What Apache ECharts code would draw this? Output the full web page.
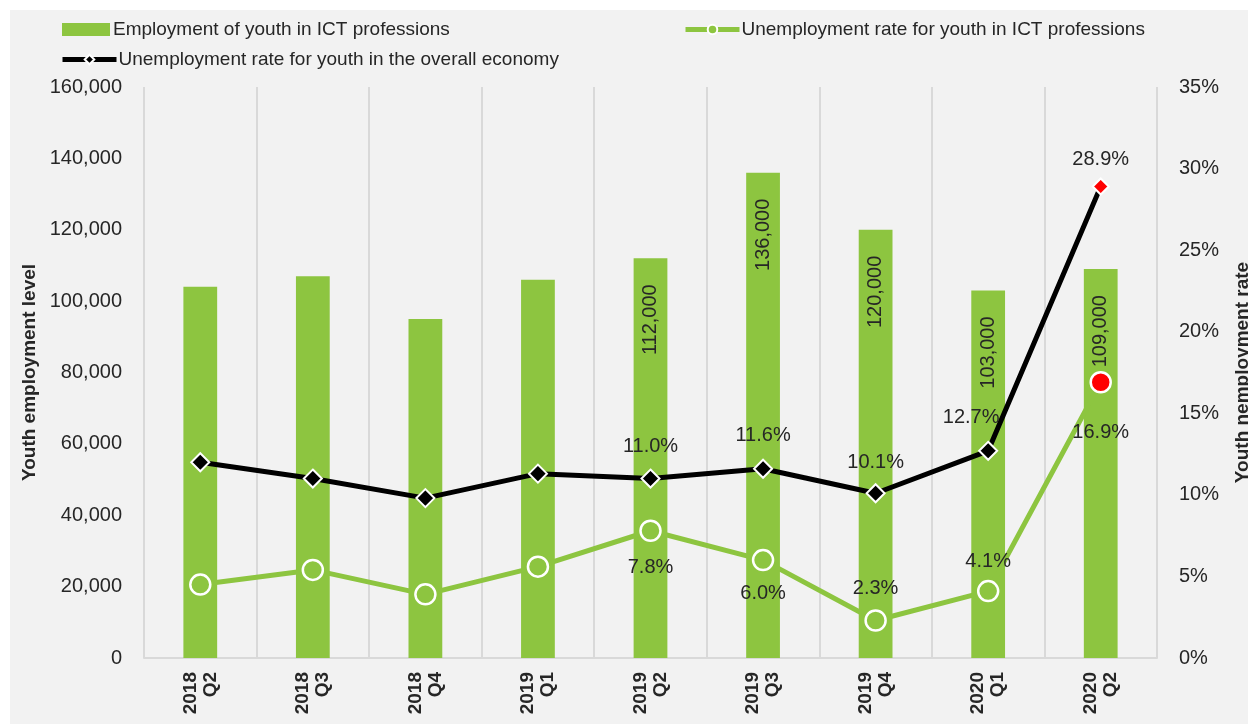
<!DOCTYPE html>
<html>
<head>
<meta charset="utf-8">
<script src="https://cdn.jsdelivr.net/npm/echarts@6/dist/echarts.min.js"></script>
<style>html,body{margin:0;padding:0;background:#fff;}#c{width:1248px;height:724px;}</style>
</head>
<body>
<div id="c"></div>
<script>
const categories = ['2018\nQ2','2018\nQ3','2018\nQ4','2019\nQ1','2019\nQ2','2019\nQ3','2019\nQ4','2020\nQ1','2020\nQ2'];
const employmentICT = [104000, 107000, 95000, 106000, 112000, 136000, 120000, 103000, 109000];
const unempICT = [4.5, 5.4, 3.9, 5.6, 7.8, 6.0, 2.3, 4.1, 16.9];
const unempOverall = [12.0, 11.0, 9.8, 11.3, 11.0, 11.6, 10.1, 12.7, 28.9];
const leftTicks = [0, 20000, 40000, 60000, 80000, 100000, 120000, 140000, 160000];
const rightTicks = [0, 5, 10, 15, 20, 25, 30, 35];

const FONT = 'Liberation Sans';
const TXT = '#262626';
const GREEN = '#8dc540';

// label settings (style only) per point
const barLabelShown = [false,false,false,false,true,true,true,true,true];
const blackLabelCfg = [null,null,null,null,{d:12},{d:13},{d:11},{d:13,ox:-17},{d:8}];
const greenLabelCfg = [null,null,null,null,{p:'bottom',d:15},{p:'bottom',d:12},{p:'top',d:11},{p:'top',d:8},{p:'bottom',d:29}];

const fmtNum = v => v.toLocaleString('en-US');

const barData = employmentICT.map((v,i)=>({
  value: v,
  label: {show: barLabelShown[i]}
}));

const blackData = unempOverall.map((v,i)=>{
  const c = blackLabelCfg[i];
  const item = {value: v};
  if (c) item.label = {show:true, position:'top', distance:c.d, offset:[c.ox||0,0]};
  if (i === unempOverall.length-1) { item.itemStyle = {color:'#ff0000', borderColor:'#ffffff'}; item.symbolSize = 16; }
  return item;
});

const greenData = unempICT.map((v,i)=>{
  const c = greenLabelCfg[i];
  const item = {value: v};
  if (c) item.label = {show:true, position:c.p, distance:c.d};
  if (i === unempICT.length-1) { item.itemStyle = {color:'#ff0000', borderColor:'#ffffff'}; }
  return item;
});

const chart = echarts.init(document.getElementById('c'));
chart.setOption({
  animation: false,
  textStyle: {fontFamily: FONT},
  graphic: [{
    type: 'rect', left: 10, top: 10, z: -10, silent: true,
    shape: {width: 1238, height: 714},
    style: {fill: '#f2f2f2'}
  }],
  legend: [
    {data:[{name:'Employment of youth in ICT professions', icon:'rect'}], left: 57, top: 15, itemWidth: 48, itemHeight: 13, itemGap: 5,
     textStyle:{fontSize:19, color:TXT, fontFamily:FONT, padding:[0,0,0,-2]}},
    {data:['Unemployment rate for youth in ICT professions'], left: 678, top: 15, itemWidth: 54, itemHeight: 12,
     lineStyle:{width:5},
     textStyle:{fontSize:19, color:TXT, fontFamily:FONT, padding:[0,0,0,-3]}},
    {data:['Unemployment rate for youth in the overall economy'], left: 55, top: 45, itemWidth: 54, itemHeight: 12,
     lineStyle:{width:5},
     textStyle:{fontSize:19, color:TXT, fontFamily:FONT, padding:[0,0,0,-3]}}
  ],
  grid: {left: 144, right: 91, top: 87, bottom: 66, containLabel: false, outerBoundsMode: 'none'},
  xAxis: {
    type: 'category', data: categories, boundaryGap: true,
    axisLine: {show:true, lineStyle:{color:'#d9d9d9', width:2}},
    axisTick: {show:false},
    splitLine: {show:true, lineStyle:{color:'#d9d9d9', width:2}},
    axisLabel: {rotate: 90, margin: 14, fontSize: 19, fontWeight:'bold', color: TXT, fontFamily: FONT, lineHeight: 20, interval: 0}
  },
  yAxis: [
    {type:'value', min:0, max:160000, interval:20000, position:'left',
     name:'Youth employment level', nameLocation:'middle', nameGap: 98, nameRotate: 90,
     nameTextStyle:{fontSize:19, fontWeight:'bold', color:TXT, fontFamily:FONT},
     axisLine:{show:false}, axisTick:{show:false}, splitLine:{show:false},
     axisLabel:{fontSize:20, color:TXT, margin:22, fontFamily:FONT, formatter: v => fmtNum(v)}},
    {type:'value', min:0, max:35, interval:5, position:'right',
     name:'Youth nemployment rate', nameLocation:'middle', nameGap: 76, nameRotate: 90,
     nameTextStyle:{fontSize:19, fontWeight:'bold', color:TXT, fontFamily:FONT},
     axisLine:{show:false}, axisTick:{show:false}, splitLine:{show:false},
     axisLabel:{fontSize:20, color:TXT, margin:22, fontFamily:FONT, formatter: v => v + '%'}}
  ],
  series: [
    {
      name:'Employment of youth in ICT professions', type:'bar', yAxisIndex:0,
      data: barData, barWidth: '30%',
      itemStyle:{color:GREEN},
      label:{position:'insideTop', rotate:90, align:'right', verticalAlign:'middle', distance:26,
             fontSize:20, color:TXT, fontFamily:FONT, formatter: p => fmtNum(p.value)}
    },
    {
      name:'Unemployment rate for youth in the overall economy', type:'line', yAxisIndex:1,
      data: blackData, symbol:'diamond', symbolSize: 18, z: 3,
      lineStyle:{color:'#000000', width:5},
      itemStyle:{color:'#000000', borderColor:'#ffffff', borderWidth:2},
      label:{fontSize:20, color:TXT, fontFamily:FONT, formatter: p => p.value.toFixed(1) + '%'}
    },
    {
      name:'Unemployment rate for youth in ICT professions', type:'line', yAxisIndex:1,
      data: greenData, symbol:'circle', symbolSize: 20, z: 4,
      lineStyle:{color:GREEN, width:5},
      itemStyle:{color:GREEN, borderColor:'#ffffff', borderWidth:2.5},
      label:{fontSize:20, color:TXT, fontFamily:FONT, formatter: p => p.value.toFixed(1) + '%'}
    }
  ]
});
</script>
</body>
</html>
